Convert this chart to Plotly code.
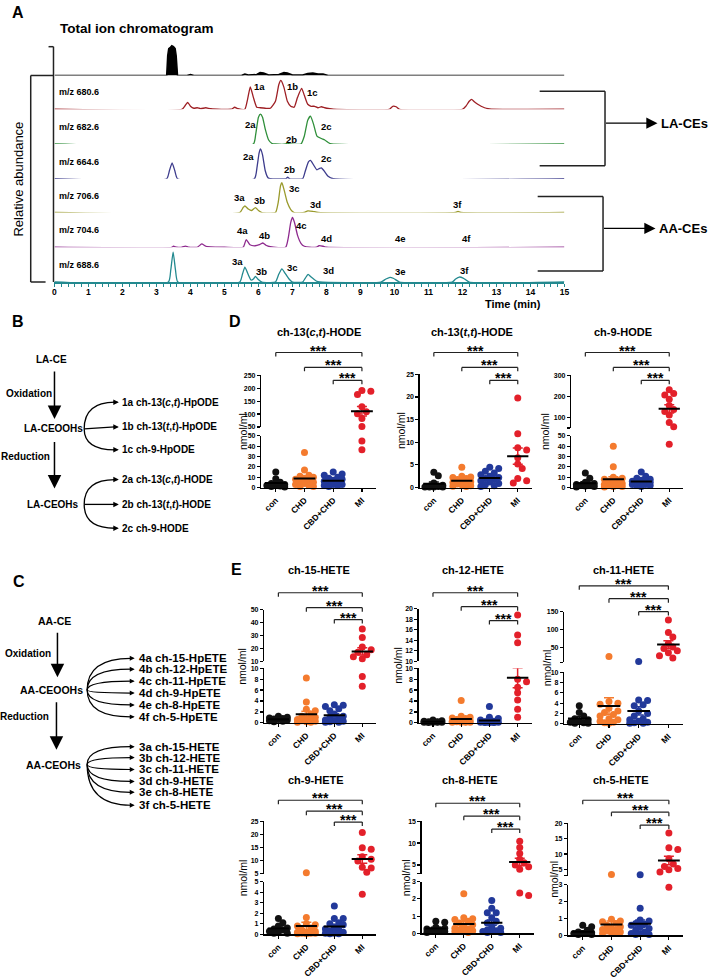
import numpy as np
import plotly.graph_objects as go

W, H = 712, 980
FONT = "Liberation Sans, Arial, Helvetica, sans-serif"


def px(x):
    return x / W


def py(y):
    return 1 - y / H


# ====================== DATA ======================
# ---- Panel A: chromatograms (time in min, intensity in arbitrary units) ----
tic = [(0, 0), (3.30, 0), (3.33, 20), (3.36, 27), (3.40, 28), (3.45, 30), (3.50, 29), (3.55, 27),
       (3.58, 20), (3.62, 0), (3.90, 0), (4.00, 1), (4.10, 0), (5.50, 0), (5.60, 1.5), (5.70, 0.5),
       (5.95, 1), (6.05, 3), (6.15, 2.5), (6.30, 0.5), (6.60, 1), (6.75, 3), (6.85, 2.5), (7.00, 0.5),
       (7.30, 0.5), (7.45, 2), (7.60, 2.5), (7.75, 1.5), (7.90, 1.5), (8.05, 0), (15, 0)]
mz680 = [(0, 0), (3.75, 0), (3.85, 4), (3.92, 7), (4.00, 3), (4.10, 1), (4.20, 1.5), (4.30, 0.5),
         (4.45, 1.5), (4.60, 0.5), (5.20, 0), (5.30, 2), (5.40, 0.5), (5.60, 0), (5.68, 10), (5.76, 22.5),
         (5.85, 12), (5.95, 2), (6.05, 1.5), (6.20, 1), (6.35, 1), (6.50, 8), (6.60, 25), (6.66, 29),
         (6.75, 22), (6.85, 8), (6.95, 3), (7.05, 2), (7.15, 12), (7.27, 21), (7.35, 14), (7.45, 5),
         (7.55, 3), (7.65, 3), (7.75, 1.5), (7.85, 2.5), (7.95, 1.5), (8.10, 0.5), (8.20, 0), (9.85, 0),
         (9.95, 3), (10.05, 2.5), (10.15, 0), (12.00, 0), (12.10, 3), (12.20, 8), (12.27, 10), (12.35, 7.5),
         (12.45, 5), (12.55, 3), (12.65, 1.5), (12.75, 0.5), (12.85, 0), (15, 0)]
mz682 = [(0, 0), (5.85, 0), (5.92, 10), (6.00, 27), (6.06, 30), (6.12, 27), (6.20, 15), (6.30, 4),
         (6.40, 0.5), (6.50, 0), (6.80, 0), (6.86, 1), (6.92, 0), (7.25, 0), (7.35, 8), (7.45, 24),
         (7.53, 28), (7.62, 20), (7.72, 8), (7.85, 5.5), (7.95, 4), (8.05, 1.5), (8.15, 0), (15, 0)]
mz664 = [(0, 0), (3.30, 0), (3.38, 8), (3.46, 16), (3.54, 8), (3.62, 0), (5.88, 0), (5.96, 12),
         (6.02, 26), (6.06, 30), (6.12, 24), (6.20, 8), (6.28, 1), (6.35, 0), (6.80, 0), (6.86, 1.5),
         (6.92, 0), (7.30, 0), (7.38, 8), (7.47, 17), (7.53, 18.5), (7.62, 14), (7.72, 9), (7.80, 10.5),
         (7.85, 11), (7.93, 8), (8.05, 2.5), (8.20, 0), (15, 0)]
mz706 = [(0, 0), (5.45, 0), (5.55, 5), (5.60, 6.7), (5.70, 3.5), (5.80, 2), (5.91, 5), (6.00, 2),
         (6.10, 0), (6.50, 0), (6.58, 10), (6.65, 27), (6.69, 30), (6.76, 22), (6.85, 10), (6.95, 3),
         (7.05, 0), (7.35, 0), (7.45, 1.7), (7.60, 1.2), (7.75, 0), (11.80, 0), (11.87, 1), (11.95, 0), (15, 0)]
mz704 = [(0, 0), (3.45, 0), (3.50, 1), (3.60, 0), (3.75, 0), (3.85, 1.2), (3.95, 0), (4.20, 0),
         (4.33, 3.3), (4.45, 1), (4.60, 0.3), (5.00, 0), (5.55, 0), (5.64, 7.7), (5.75, 2.5), (5.90, 1.5),
         (6.05, 3), (6.13, 4.3), (6.22, 2), (6.35, 0.5), (6.80, 0), (6.88, 10), (6.95, 25), (7.00, 30),
         (7.06, 25), (7.15, 12), (7.25, 4), (7.35, 1), (7.50, 0), (7.70, 0), (7.78, 1.5), (7.90, 1),
         (8.00, 0), (15, 0)]
mz688 = [(0, 0), (3.35, 0), (3.42, 12), (3.49, 30), (3.56, 12), (3.63, 0), (5.45, 0), (5.53, 8),
         (5.60, 15), (5.68, 9), (5.78, 2), (5.85, 3), (5.91, 5.7), (5.98, 3), (6.10, 0), (6.50, 0),
         (6.60, 8), (6.69, 13.3), (6.78, 9), (6.90, 3), (7.00, 0), (7.30, 0), (7.38, 4), (7.46, 7.7),
         (7.55, 5), (7.70, 1), (7.80, 0), (9.60, 0), (9.75, 3), (9.87, 4.7), (9.98, 3.5), (10.15, 0),
         (11.70, 0), (11.80, 3), (11.91, 5), (12.02, 4), (12.20, 0), (15, 0)]

# peak labels: (label, time, height above baseline)
lab680 = [("1a", 6.03, 23), ("1b", 6.99, 23), ("1c", 7.60, 17)]
lab682 = [("2a", 5.77, 20), ("2b", 6.96, 5), ("2c", 8.01, 18)]
lab664 = [("2a", 5.71, 22), ("2b", 6.90, 9), ("2c", 8.01, 20)]
lab706 = [("3a", 5.45, 15), ("3b", 6.03, 12), ("3c", 7.05, 24), ("3d", 7.69, 8), ("3f", 11.86, 8)]
lab704 = [("4a", 5.53, 17), ("4b", 6.18, 12), ("4c", 7.28, 22), ("4d", 8.01, 9), ("4e", 10.17, 9), ("4f", 12.12, 9)]
lab688 = [("3a", 5.39, 21), ("3b", 6.09, 11), ("3c", 6.99, 15), ("3d", 8.07, 12), ("3e", 10.17, 11), ("3f", 12.06, 12)]

time_ticks = list(range(0, 16))

# ---- Panels D/E: scatter data (nmol/ml) ----
groups = ["con", "CHD", "CBD+CHD", "MI"]

hode13ct_con = [15, 8.5, 5, 4, 3, 2.5, 2, 1.5, 1, 0.5]
hode13ct_chd = [34, 17, 12, 11, 10, 9, 8, 7, 6, 5, 4, 3, 2, 1, 1]
hode13ct_cbd = [15, 13, 12, 10, 9, 8, 7, 6, 5, 4, 3, 3, 2, 2, 1]
hode13ct_mi = [191, 188, 176, 128, 109, 101, 83, 52, 45, 36.5]

hode13tt_con = [3.4, 2.6, 1.0, 0.5, 0.3, 0.2, 0.1, 0.1, 0.1, 0.1]
hode13tt_chd = [4.5, 2.5, 2.3, 2.2, 2.0, 1.8, 1.5, 1.3, 1.1, 0.9, 0.8, 0.6, 0.4, 0.3, 0.2]
hode13tt_cbd = [4.5, 4.2, 3.6, 3.2, 2.8, 2.5, 2.2, 2.0, 1.8, 1.5, 1.2, 0.9, 0.6, 0.4, 0.2]
hode13tt_mi = [19.8, 11.9, 8.8, 8.3, 6.6, 5.2, 4.2, 2.0, 1.5, 1.0]

hode9_con = [14, 9, 5, 4, 3, 2.5, 2, 1.5, 1, 0.5]
hode9_chd = [40, 20, 10, 9, 8, 7, 6, 5, 4, 3, 2, 2, 1, 1, 0.5]
hode9_cbd = [15, 11, 9, 8, 7, 6, 6, 5, 5, 4, 3, 3, 2, 2, 1]
hode9_mi = [232, 214, 207, 186, 157, 138, 128, 112, 76, 56, 42]

hete15_con = [1.2, 1.0, 0.9, 0.8, 0.7, 0.6, 0.5, 0.4, 0.3, 0.2]
hete15_chd = [8.2, 3.8, 2.5, 2.2, 1.6, 1.2, 1.0, 0.8, 0.6, 0.5, 0.4, 0.3, 0.2, 0.1, 0.1]
hete15_cbd = [3.3, 3.2, 3.0, 2.6, 2.2, 1.6, 1.2, 1.0, 0.8, 0.5, 0.4, 0.3, 0.2, 0.1, 0.1]
hete15_mi = [35, 28.5, 21, 19, 17, 15, 13.5, 12, 8.5, 6.7]

hete12_con = [0.5, 0.4, 0.3, 0.2, 0.2, 0.1, 0.1, 0.1, 0.1, 0.05]
hete12_chd = [4.1, 1.2, 1.0, 0.9, 0.8, 0.6, 0.5, 0.4, 0.3, 0.2, 0.2, 0.1, 0.1, 0.1, 0.1]
hete12_cbd = [3.0, 1.0, 0.8, 0.5, 0.3, 0.2, 0.2, 0.1, 0.1, 0.1, 0.1, 0.1, 0.05, 0.05, 0.05]
hete12_mi = [18.8, 15.0, 13.5, 8.0, 7.5, 6.5, 5.5, 4.2, 2.5, 1.0]

hete11_con = [3.5, 2.2, 1.5, 1.0, 0.8, 0.5, 0.3, 0.2, 0.1, 0.1]
hete11_chd = [25.6, 4.3, 4.0, 3.8, 3.0, 2.5, 2.2, 1.8, 1.5, 1.0, 0.8, 0.5, 0.3, 0.2, 0.1]
hete11_cbd = [12, 4.6, 4.5, 3.7, 3.5, 2.5, 2.0, 1.5, 1.0, 0.8, 0.5, 0.3, 0.2, 0.1, 0.1]
hete11_mi = [127, 92, 80, 62, 52, 48, 42, 36, 28, 22]

hete9_con = [1.5, 1.1, 0.8, 0.6, 0.5, 0.4, 0.3, 0.2, 0.1, 0.1]
hete9_chd = [5.4, 1.6, 1.0, 0.9, 0.8, 0.6, 0.4, 0.3, 0.2, 0.2, 0.1, 0.1, 0.1, 0.05, 0.05]
hete9_cbd = [2.7, 1.5, 1.5, 1.1, 1.0, 0.9, 0.7, 0.5, 0.4, 0.3, 0.2, 0.1, 0.1, 0.05, 0.05]
hete9_mi = [20.7, 14.9, 14.3, 11.5, 10.5, 9.8, 7.5, 7.2, 5.6, 3.8]

hete8_con = [0.7, 0.65, 0.35, 0.3, 0.25, 0.2, 0.15, 0.1, 0.1, 0.05]
hete8_chd = [2.3, 0.9, 0.85, 0.8, 0.7, 0.6, 0.5, 0.4, 0.3, 0.25, 0.2, 0.15, 0.1, 0.1, 0.05]
hete8_cbd = [1.9, 1.45, 1.2, 1.2, 0.9, 0.7, 0.6, 0.4, 0.3, 0.2, 0.15, 0.1, 0.1, 0.05, 0.05]
hete8_mi = [10.4, 9.0, 7.6, 6.3, 5.5, 5.0, 4.6, 4.0, 2.35, 2.2]

hete5_con = [0.6, 0.5, 0.3, 0.2, 0.15, 0.1, 0.1, 0.1, 0.05, 0.05]
hete5_chd = [3.4, 0.95, 0.85, 0.8, 0.7, 0.6, 0.5, 0.4, 0.35, 0.3, 0.25, 0.2, 0.15, 0.1, 0.1]
hete5_cbd = [3.3, 1.6, 0.9, 0.85, 0.7, 0.65, 0.6, 0.5, 0.4, 0.3, 0.2, 0.1, 0.1, 0.05, 0.05]
hete5_mi = [16.8, 12.0, 11.5, 8.5, 6.8, 6.0, 5.3, 4.9, 4.2, 2.85]

# ====================== STYLE / LAYOUT ======================
group_colors = ["#111111", "#F47B2E", "#22399A", "#E3202A"]

layout = {}
traces = []
ann = []
shapes = []
axn = [0]


def new_axes(xdom, ydom, xrange, yrange, xkw, ykw):
    axn[0] += 1
    n = axn[0]
    s = "" if n == 1 else str(n)
    base = dict(showgrid=False, zeroline=False, fixedrange=True)
    xa = dict(base, domain=[px(xdom[0]), px(xdom[1])], range=xrange, anchor="y" + s)
    xa.update(xkw)
    ya = dict(base, domain=[py(ydom[1]), py(ydom[0])], range=yrange, anchor="x" + s)
    ya.update(ykw)
    layout["xaxis" + s] = xa
    layout["yaxis" + s] = ya
    return "x" + s, "y" + s


def text(x, y, s, size=9, bold=True, xanchor="center", yanchor="middle", angle=0, color="black"):
    ann.append(dict(x=px(x), y=py(y), xref="paper", yref="paper", text=s, showarrow=False,
                    xanchor=xanchor, yanchor=yanchor, textangle=angle, borderpad=0,
                    font=dict(family=FONT, size=size, color=color, weight="bold" if bold else "normal")))


def arrow(x0, y0, x1, y1, width=1.4, head=2, size=1.0):
    ann.append(dict(x=px(x1), y=py(y1), xref="paper", yref="paper", ax=x0 - x1, ay=y0 - y1,
                    axref="pixel", ayref="pixel", showarrow=True, arrowhead=head, arrowsize=size,
                    arrowwidth=width, arrowcolor="black", text="", standoff=0))


def line(x0, y0, x1, y1, w=1.5, color="#222222"):
    shapes.append(dict(type="line", xref="paper", yref="paper", x0=px(x0), y0=py(y0), x1=px(x1), y1=py(y1),
                       line=dict(color=color, width=w)))


def curve(x0, y0, cx, cy, x1, y1, w=1.3):
    shapes.append(dict(type="path", xref="paper", yref="paper",
                       path=f"M {px(x0)},{py(y0)} Q {px(cx)},{py(cy)} {px(x1)},{py(y1)}",
                       line=dict(color="black", width=w)))


# ---------------- Panel A ----------------
chrom_rows = [
    ("", tic, "#000000", 72, []),
    ("m/z 680.6", mz680, "#9E1F24", 106, lab680),
    ("m/z 682.6", mz682, "#2F8F3A", 141, lab682),
    ("m/z 664.6", mz664, "#3C3B8C", 176, lab664),
    ("m/z 706.6", mz706, "#9A9A2C", 210, lab706),
    ("m/z 704.6", mz704, "#8E2A8E", 245, lab704),
    ("m/z 688.6", mz688, "#23898F", 280, lab688),
]
CX0, CX1 = 53, 568
for k, (name, pts, col, base, labs) in enumerate(chrom_rows):
    last = k == len(chrom_rows) - 1
    if last:
        xkw = dict(visible=True, showline=True, linecolor=col, linewidth=1.5, ticks="outside", ticklen=3,
                   tickwidth=1.2, tickcolor=col, tickvals=time_ticks, ticktext=[str(t) for t in time_ticks],
                   ticklabelstandoff=-2,
                   tickfont=dict(family=FONT, size=8.5, weight="bold", color="black"),
                   minor=dict(dtick=0.2, tick0=0, ticks="outside", ticklen=3, tickcolor=col, tickwidth=1))
    else:
        xkw = dict(visible=False)
    xa, ya = new_axes((CX0, CX1), (base - 34, base), [0, 15], [0, 34], xkw, dict(visible=False))
    t = [p[0] for p in pts]
    v = [p[1] for p in pts]
    if k == 0:
        traces.append(go.Scatter(x=t, y=v, xaxis=xa, yaxis=ya, mode="lines", fill="tozeroy",
                                 fillcolor="black", line=dict(color="black", width=1.5), showlegend=False,
                                 hoverinfo="skip", cliponaxis=False))
    else:
        traces.append(go.Scatter(x=t, y=v, xaxis=xa, yaxis=ya, mode="lines",
                                 line=dict(color=col, width=1.3, shape="spline", smoothing=0.5),
                                 showlegend=False, hoverinfo="skip", cliponaxis=False))
        text(57, base - 17, name, size=9, xanchor="left")
    for (lb, tt, hh) in labs:
        ann.append(dict(x=tt, y=hh, xref=xa, yref=ya, text=lb, showarrow=False,
                        font=dict(family=FONT, size=9.5, weight="bold", color="black")))

text(16, 9, "A", size=16)
text(58, 25, "Total ion chromatogram", size=13.5, xanchor="left")
text(17, 176, "Relative abundance", size=13, bold=False, angle=-90)
text(516, 302, "Time (min)", size=11)
# left brackets
line(52, 43, 52, 280)
line(47, 43, 52, 43)
line(29, 72, 52, 72)
line(29, 72, 29, 280)
line(29, 280, 44, 280)
# right brackets
line(543, 88, 609, 88)
line(609, 88, 609, 163)
line(543, 163, 609, 163)
arrow(609, 120, 662, 120, width=1.4, size=1.6)
text(665, 120, "LA-CEs", size=13, xanchor="left")
line(541, 194, 607, 194)
line(607, 194, 607, 269)
line(541, 269, 607, 269)
arrow(607, 226, 660, 226, width=1.4, size=1.6)
text(663, 226, "AA-CEs", size=13, xanchor="left")

# ---------------- Panel B ----------------
text(16, 320, "B", size=16)
text(50, 358, "LA-CE", size=10)
arrow(53, 369, 53, 418, width=1.5, size=1.8)
text(27, 392, "Oxidation", size=10)
text(52, 428, "LA-CEOOHs", size=10)
arrow(53, 440, 53, 488, width=1.5, size=1.8)
text(24, 456, "Reduction", size=10)
text(52, 504, "LA-CEOHs", size=10)
b_hp = ["1a ch-13(<i>c</i>,<i>t</i>)-HpODE", "1b ch-13(<i>t</i>,<i>t</i>)-HpODE", "1c ch-9-HpODE"]
b_ho = ["2a ch-13(<i>c</i>,<i>t</i>)-HODE", "2b ch-13(<i>t</i>,<i>t</i>)-HODE", "2c ch-9-HODE"]
for (oy, labels, ys) in [(428, b_hp, [401, 426, 449]), (504, b_ho, [479, 504, 528])]:
    ox = 83
    for lb, ty in zip(labels, ys):
        if abs(ty - oy) < 3:
            line(ox, oy, 114, ty, w=1.3, color="black")
        else:
            curve(ox, oy, ox, ty, 114, ty)
        arrow(111, ty, 118, ty, width=1.1, size=1.0)
        text(120, ty, lb, size=10, xanchor="left")

# ---------------- Panel C ----------------
text(17, 582, "C", size=16)
text(53, 621, "AA-CE", size=10.5)
arrow(56, 632, 56, 678, width=1.5, size=1.8)
text(26, 654, "Oxidation", size=10)
text(50, 691, "AA-CEOOHs", size=10.5)
arrow(55, 702, 55, 751, width=1.5, size=1.8)
text(23, 718, "Reduction", size=10)
text(52, 766, "AA-CEOHs", size=10.5)
c_hp = ["4a ch-15-HpETE", "4b ch-12-HpETE", "4c ch-11-HpETE", "4d ch-9-HpETE", "4e ch-8-HpETE", "4f ch-5-HpETE"]
c_ho = ["3a ch-15-HETE", "3b ch-12-HETE", "3c ch-11-HETE", "3d ch-9-HETE", "3e ch-8-HETE", "3f ch-5-HETE"]
for (oy, labels, ys) in [(691, c_hp, [659, 670, 682, 694, 706, 718]),
                         (766, c_ho, [748, 759, 771, 783, 794, 807])]:
    ox = 86
    for lb, ty in zip(labels, ys):
        curve(ox, oy, ox, ty, 130, ty, w=1.2)
        arrow(128, ty, 134, ty, width=1.1, size=0.9)
        text(137, ty, lb, size=11.5, xanchor="left")

# ---------------- Panels D / E ----------------
text(235, 320, "D", size=16)
text(237, 570, "E", size=16)


def seg(dom, rng, ticks, labels=None):
    return dict(dom=dom, rng=rng, ticks=ticks, labels=labels)


panels = [
    dict(title="ch-13(<i>c</i>,<i>t</i>)-HODE", data=[hode13ct_con, hode13ct_chd, hode13ct_cbd, hode13ct_mi],
         xdom=(262, 378), tx=320, ty=330, ylx=244,
         lower=seg((435, 487), [0, 50], [0, 10, 20, 30, 40, 50]),
         upper=seg((374, 426), [50, 250], [50, 100, 150, 200, 250]), br=[351, 366, 379]),
    dict(title="ch-13(<i>t</i>,<i>t</i>)-HODE", data=[hode13tt_con, hode13tt_chd, hode13tt_cbd, hode13tt_mi],
         xdom=(422, 535), tx=475, ty=330, ylx=403,
         lower=seg((373, 487), [0, 25], [0, 5, 10, 15, 20, 25]), upper=None, br=[351, 366, 379]),
    dict(title="ch-9-HODE", data=[hode9_con, hode9_chd, hode9_cbd, hode9_mi],
         xdom=(575, 688), tx=627, ty=330, ylx=549,
         lower=seg((435, 487), [0, 50], [0, 10, 20, 30, 40, 50]),
         upper=seg((374, 427), [50, 300], [50, 100, 200, 300], ["", "100", "200", "300"]), br=[351, 366, 379]),
    dict(title="ch-15-HETE", data=[hete15_con, hete15_chd, hete15_cbd, hete15_mi],
         xdom=(265, 378), tx=320, ty=570, ylx=243,
         lower=seg((669, 724), [0, 10], [0, 2, 4, 6, 8, 10]),
         upper=seg((610, 662), [10, 50], [10, 20, 30, 40, 50]), br=[593, 608, 620]),
    dict(title="ch-12-HETE", data=[hete12_con, hete12_chd, hete12_cbd, hete12_mi],
         xdom=(421, 535), tx=476, ty=570, ylx=400,
         lower=seg((669, 724), [0, 10], [0, 2, 4, 6, 8, 10]),
         upper=seg((609, 662), [10, 20], [10, 12, 14, 16, 18, 20]), br=[593, 607, 621]),
    dict(title="ch-11-HETE", data=[hete11_con, hete11_chd, hete11_cbd, hete11_mi],
         xdom=(568, 688), tx=628, ty=570, ylx=550,
         lower=seg((673, 725), [0, 10], [0, 2, 4, 6, 8, 10]),
         upper=seg((612, 663), [10, 150], [10, 50, 100, 150], ["", "50", "100", "150"]), br=[586, 599, 612]),
    dict(title="ch-9-HETE", data=[hete9_con, hete9_chd, hete9_cbd, hete9_mi],
         xdom=(265, 378), tx=317, ty=782, ylx=243,
         lower=seg((884, 937), [0, 5], [0, 1, 2, 3, 4, 5]),
         upper=seg((823, 876), [5, 25], [5, 10, 15, 20, 25]), br=[802, 813, 824]),
    dict(title="ch-8-HETE", data=[hete8_con, hete8_chd, hete8_cbd, hete8_mi],
         xdom=(424, 537), tx=473, ty=782, ylx=408,
         lower=seg((884, 936), [0, 3], [0, 1, 2, 3]),
         upper=seg((823, 876), [3, 15], [3, 5, 10, 15], ["", "5", "10", "15"]), br=[805, 818, 831]),
    dict(title="ch-5-HETE", data=[hete5_con, hete5_chd, hete5_cbd, hete5_mi],
         xdom=(572, 688), tx=625, ty=782, ylx=558,
         lower=seg((887, 938), [0, 3], [0, 1, 2, 3]),
         upper=seg((825, 878), [3, 20], [3, 5, 10, 15, 20], ["", "5", "10", "15", "20"]), br=[802, 814, 827]),
]

ytickfont = dict(family=FONT, size=7, weight="bold", color="black")
xtickfont = dict(family=FONT, size=8.5, weight="bold", color="black")


def yaxis_kw(s):
    return dict(showline=True, linecolor="black", linewidth=1.5, ticks="outside", ticklen=3, tickwidth=1.2,
                tickcolor="black", tickvals=s["ticks"],
                ticktext=s["labels"] if s["labels"] else [str(t) for t in s["ticks"]],
                tickfont=ytickfont)


def seg_name(p, v):
    if p["upper"] is not None and v > p["lower"]["rng"][1]:
        return "upper"
    return "lower"


def ypix(p, v):
    s = p[seg_name(p, v)]
    t, b = s["dom"]
    r0, r1 = s["rng"]
    return b - (v - r0) / (r1 - r0) * (b - t)


def swarm(p, vals, step=4.5, maxoff=13.0, mind=5.5):
    order = sorted(range(len(vals)), key=lambda i: -vals[i])
    cands = [0.0]
    k = 1
    while k * step <= maxoff:
        cands += [k * step, -k * step]
        k += 1
    placed = []
    offs = [0.0] * len(vals)
    for i in order:
        y = ypix(p, vals[i])
        best, fb, fbd = None, 0.0, -1
        for c in cands:
            md = min([((c - ox) ** 2 + (y - oy) ** 2) ** 0.5 for ox, oy in placed], default=1e9)
            if md >= mind:
                best = c
                break
            if md > fbd:
                fbd, fb = md, c
        if best is None:
            best = fb
        placed.append((best, y))
        offs[i] = best
    return offs


for p in panels:
    xlow, ylow = new_axes(p["xdom"], p["lower"]["dom"], [-0.5, 3.5], p["lower"]["rng"],
                          dict(showline=True, linecolor="black", linewidth=1.5, ticks="outside", ticklen=3,
                               tickwidth=1.2, tickcolor="black", tickvals=[0, 1, 2, 3], ticktext=groups,
                               tickangle=-45, tickfont=xtickfont),
                          yaxis_kw(p["lower"]))
    axes = {"lower": (xlow, ylow)}
    if p["upper"] is not None:
        xup, yup = new_axes(p["xdom"], p["upper"]["dom"], [-0.5, 3.5], p["upper"]["rng"],
                            dict(visible=False), yaxis_kw(p["upper"]))
        axes["upper"] = (xup, yup)
    ppc = (p["xdom"][1] - p["xdom"][0]) / 4.0
    for gi, vals in enumerate(p["data"]):
        offs = swarm(p, vals)
        for sname in axes:
            xs = [gi + o / ppc for o, v in zip(offs, vals) if seg_name(p, v) == sname]
            ys = [v for v in vals if seg_name(p, v) == sname]
            if xs:
                traces.append(go.Scatter(x=xs, y=ys, xaxis=axes[sname][0], yaxis=axes[sname][1], mode="markers",
                                         marker=dict(size=7, color=group_colors[gi], line=dict(width=0)),
                                         cliponaxis=False, showlegend=False, hoverinfo="skip"))
    for gi, vals in enumerate(p["data"]):
        arr = np.array(vals, dtype=float)
        m = float(arr.mean())
        sem = float(arr.std(ddof=1) / np.sqrt(len(arr)))
        xa, ya = axes[seg_name(p, m)]
        traces.append(go.Scatter(x=[gi], y=[m], xaxis=xa, yaxis=ya, mode="markers",
                                 marker=dict(size=1, color="rgba(0,0,0,0)"),
                                 error_y=dict(type="data", array=[sem], color=group_colors[gi], thickness=1.5,
                                              width=5),
                                 cliponaxis=False, showlegend=False, hoverinfo="skip"))
        traces.append(go.Scatter(x=[gi - 0.38, gi + 0.38], y=[m, m], xaxis=xa, yaxis=ya, mode="lines",
                                 line=dict(color="black", width=2), cliponaxis=False, showlegend=False,
                                 hoverinfo="skip"))
    # title and y label
    text(p["tx"], p["ty"], p["title"], size=11)
    ytop = p["upper"]["dom"][0] if p["upper"] is not None else p["lower"]["dom"][0]
    text(p["ylx"], (ytop + p["lower"]["dom"][1]) / 2, "nmol/ml", size=10.5, bold=False, angle=-90)
    # significance brackets
    for (i, j), yb in zip([(0, 3), (1, 3), (2, 3)], p["br"]):
        for (a0, b0, a1, b1) in [(i, yb + 4, i, yb), (i, yb, j, yb), (j, yb, j, yb + 4)]:
            shapes.append(dict(type="line", xref=xlow, yref="paper", x0=a0, x1=a1, y0=py(b0), y1=py(b1),
                               line=dict(color="#222222", width=1.2)))
        ann.append(dict(x=(i + j) / 2, y=py(yb - 11), xref=xlow, yref="paper", text="***", showarrow=False,
                        yanchor="top", borderpad=0,
                        font=dict(family=FONT, size=14, weight="bold", color="black")))

layout.update(dict(width=W, height=H, margin=dict(l=0, r=0, t=0, b=0), paper_bgcolor="white",
                   plot_bgcolor="white", showlegend=False, annotations=ann, shapes=shapes,
                   font=dict(family=FONT)))

fig = go.Figure(data=traces, layout=layout)
fig.write_html("out.html", config={"displayModeBar": False, "staticPlot": True},
               post_script="document.body.style.margin='0px';")
